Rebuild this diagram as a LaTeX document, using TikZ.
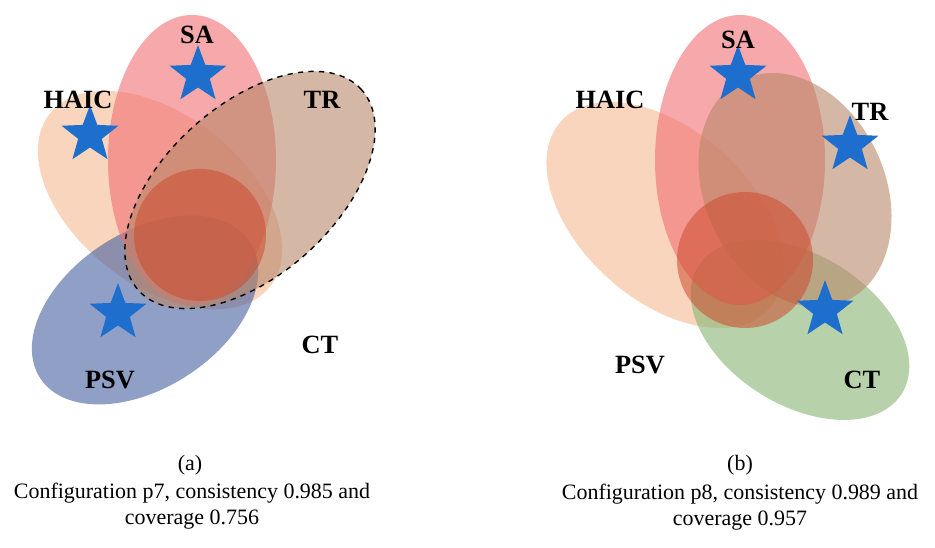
\documentclass[tikz,border=0pt]{standalone}
\usepackage{fontspec}
\setmainfont{Liberation Serif}
\usetikzlibrary{shapes.geometric}
\definecolor{saC}{RGB}{240,110,115}
\definecolor{haicC}{RGB}{245,185,145}
\definecolor{trC}{RGB}{185,135,105}
\definecolor{psvC}{RGB}{70,95,160}
\definecolor{ctC}{RGB}{135,180,115}
\definecolor{coreC}{RGB}{205,75,45}
\definecolor{starC}{RGB}{30,110,205}
\tikzset{
    lobe/.style  = {fill opacity=0.6, draw=none},
    pin/.style   = {star, star points=5, star point ratio=2.4, fill=starC,
                    minimum size=34pt, inner sep=0pt},
    lbl/.style   = {font=\bfseries\fontsize{15}{15}\selectfont},
    captext/.style = {font=\fontsize{12.5}{15}\selectfont, align=center}
}
\begin{document}
\begin{tikzpicture}[x=0.02cm,y=0.02cm]
    \useasboundingbox (0,0) rectangle (935,547);
    \fill[white] (0,0) rectangle (935,547);

    % panel (a)
    \fill[lobe,haicC] (160,347) ellipse [x radius=140,y radius=85,rotate=-38];
    \fill[lobe,psvC]  (145,237) ellipse [x radius=125,y radius=78,rotate=33];
    \fill[lobe,saC]   (192,387) ellipse [x radius=84,y radius=145];
    \fill[lobe,trC]   (250,357) ellipse [x radius=150,y radius=85,rotate=42];
    \fill[coreC,opacity=0.55] (200,312) circle (66);
    \draw[dashed,thick] (250,357) ellipse [x radius=150,y radius=85,rotate=42];

    \node[pin] (pa1) at (198,472) {};
    \node[pin] (pa2) at (90,412) {};
    \node[pin] (pa3) at (118,234) {};
    \node[lbl] (saa)   at (197,512) {SA};
    \node[lbl] (haica) at (78,447)  {HAIC};
    \node[lbl] (tra)   at (322,447) {TR};
    \node[lbl] (psva)  at (110,167) {PSV};
    \node[lbl] (cta)   at (320,202) {CT};
    \node[captext] (taga)  at (190,82)  {(a)};
    \node[captext] (capa)  at (192,41)  {Configuration p7, consistency 0.985 and\\coverage 0.756};

    % panel (b)
    \fill[lobe,haicC] (665,332) ellipse [x radius=140,y radius=85,rotate=-42];
    \fill[lobe,ctC]   (800,217) ellipse [x radius=120,y radius=75,rotate=-32];
    \fill[lobe,saC]   (740,387) ellipse [x radius=85,y radius=145];
    \fill[lobe,trC]   (795,357) ellipse [x radius=90,y radius=122,rotate=25];
    \fill[coreC,opacity=0.55] (745,287) circle (68);

    \node[pin] (pb1) at (738,472) {};
    \node[pin] (pb2) at (850,402) {};
    \node[pin] (pb3) at (825,237) {};
    \node[lbl] (sab)   at (738,507) {SA};
    \node[lbl] (haicb) at (610,447) {HAIC};
    \node[lbl] (trb)   at (870,435) {TR};
    \node[lbl] (psvb)  at (640,182) {PSV};
    \node[lbl] (ctb)   at (862,167) {CT};
    \node[captext] (tagb)  at (740,82)  {(b)};
    \node[captext] (capb)  at (740,40)  {Configuration p8, consistency 0.989 and\\coverage 0.957};
\end{tikzpicture}
\end{document}
